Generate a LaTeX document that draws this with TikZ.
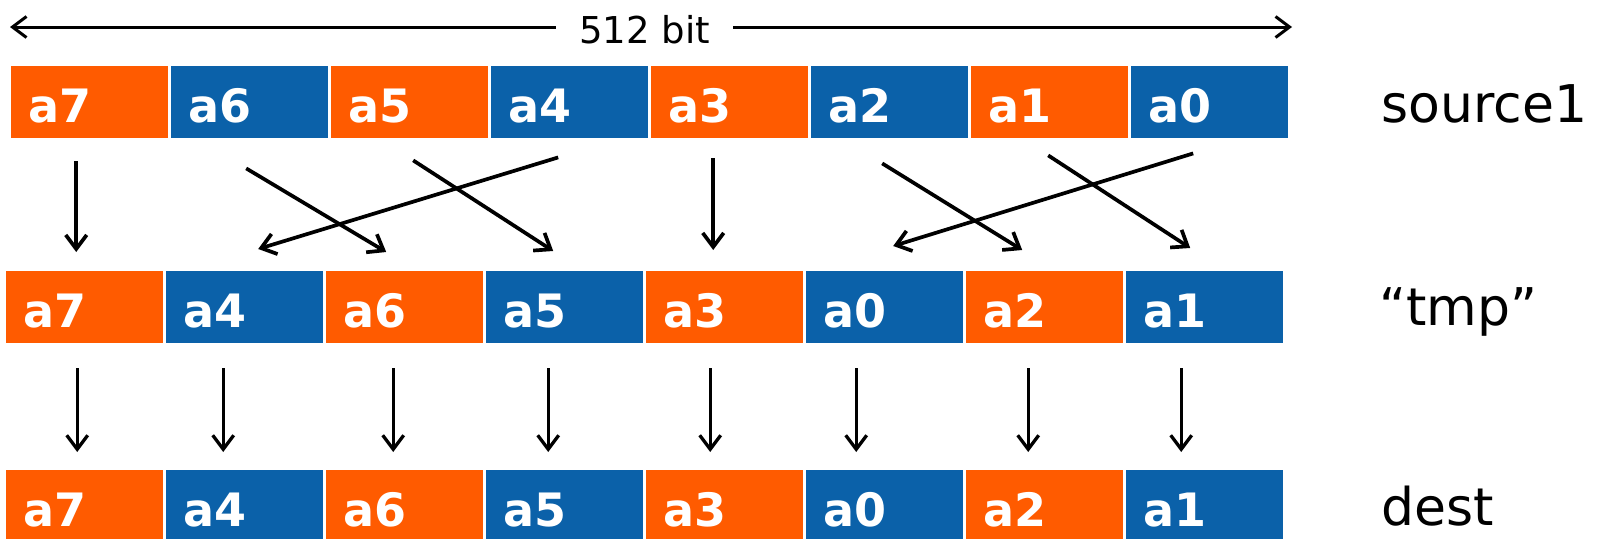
\documentclass[tikz,border=0pt]{standalone}
\usepackage{fontspec}
\setmainfont{DejaVu Sans}
\usetikzlibrary{arrows.meta}
\definecolor{laneorange}{HTML}{FF5B00}
\definecolor{laneblue}{HTML}{0B61A9}

\begin{document}
\begin{tikzpicture}[
    x=1pt, y=-1pt, % pixel grid, y grows downwards
    >={Straight Barb[length=14pt,width=21pt]},
    lane/.style={anchor=north west, minimum width=157pt, minimum height=72pt,
        inner ysep=0pt, inner xsep=17pt, text width=123pt, align=left,
        text height=40pt, text depth=0pt, text=white,
        font=\fontsize{46}{50}\selectfont\bfseries},
    reg name/.style={anchor=base west, font=\fontsize{52}{60}\selectfont},
    move/.style={->, line width=3.7pt}
]
    \useasboundingbox (0,0) rectangle (1602,538);

    % --- register width ---
    \node[anchor=base, inner xsep=23pt, font=\fontsize{37}{44}\selectfont] (width) at (644.5,43) {512 bit};
    \coordinate (wleft) at (10,27);
    \coordinate (wright) at (1292,27);
    \draw[->, line width=3pt] (width.west |- wleft) -- (wleft);
    \draw[->, line width=3pt] (width.east |- wright) -- (wright);

    % --- the three registers ---
    \foreach \lab/\col [count=\k from 0] in {a7/laneorange, a6/laneblue, a5/laneorange, a4/laneblue,
                                              a3/laneorange, a2/laneblue, a1/laneorange, a0/laneblue}
        \node[lane, fill=\col] (s\k) at (11+160*\k, 66) {\lab};

    \foreach \lab/\col [count=\k from 0] in {a7/laneorange, a4/laneblue, a6/laneorange, a5/laneblue,
                                              a3/laneorange, a0/laneblue, a2/laneorange, a1/laneblue} {
        \node[lane, fill=\col] (t\k) at (6+160*\k, 271) {\lab};
        \node[lane, fill=\col] (d\k) at (6+160*\k, 470) {\lab};
    }

    \node[reg name] (srcname) at (1378,122) {source1};
    \node[reg name] (tmpname) at (1376,325) {“tmp”};
    \node[reg name] (dstname) at (1378,525) {dest};

    % --- first step: swap neighbouring elements inside each half ---
    \foreach \from/\to/\sx/\sy/\ex/\ey in {0/0/-13.5/23/-8.5/-19, 1/2/-3.5/30/-18.5/-19,
                                           2/3/3.5/22/-11.5/-20, 3/1/-11.5/19/13.5/-22,
                                           4/4/-16.5/20/-11.5/-21, 5/6/-7.5/25/-22.5/-21,
                                           6/7/-1.5/17/-14.5/-23, 7/5/-16.5/15/8.5/-25}
        \draw[move] ([shift={(\sx,\sy)}]s\from.south) -- ([shift={(\ex,\ey)}]t\to.north);

    % --- second step: straight copy ---
    \foreach \dx [count=\k from 0] in {-7.5, -21.5, -11.5, -16.5, -14.5, -28.5, -16.5, -23.5}
        \draw[move, line width=3.3pt] ([shift={(\dx,25)}]t\k.south) -- ([shift={(\dx,-18)}]d\k.north);

\end{tikzpicture}
\end{document}
